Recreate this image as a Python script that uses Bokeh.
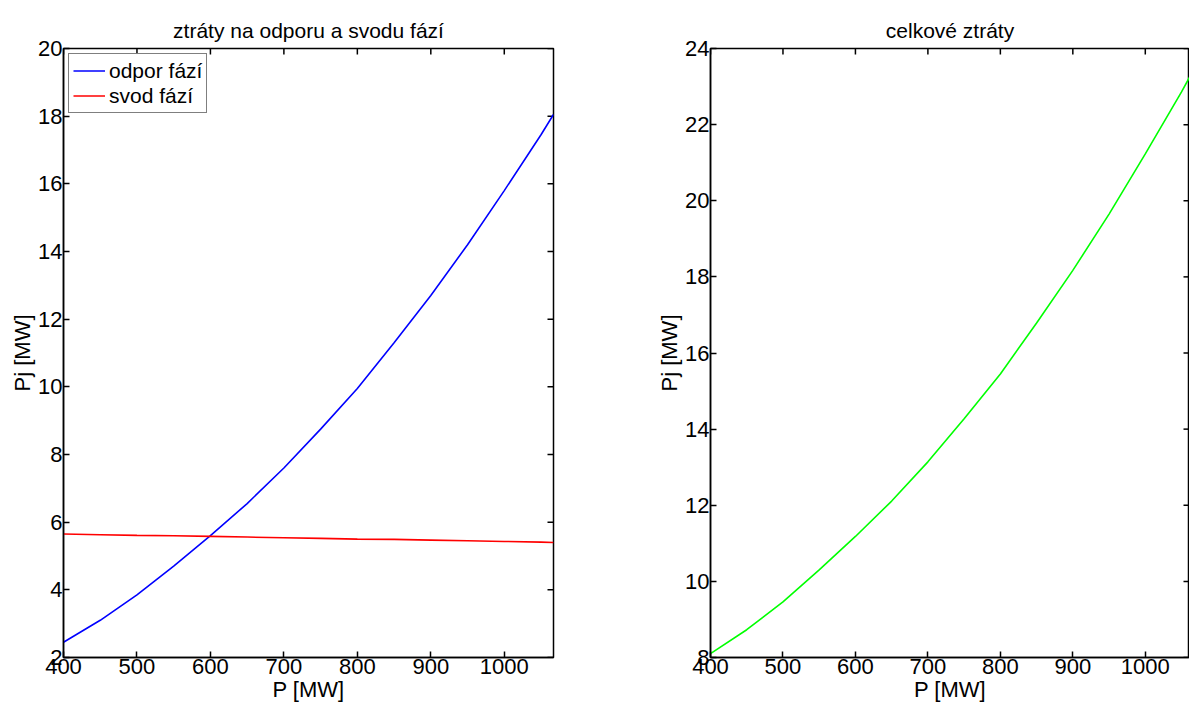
import math
from bokeh.plotting import figure
from bokeh.models import Range1d, FixedTicker, Legend, LegendItem
from bokeh.layouts import row
from bokeh.embed import file_html
from bokeh.resources import INLINE

P = [400, 450, 500, 550, 600, 650, 700, 750, 800, 850, 900, 950, 1000, 1050, 1067]
odpor = [2.45, 3.1, 3.85, 4.7, 5.6, 6.55, 7.6, 8.75, 9.95, 11.3, 12.7, 14.2, 15.8, 17.45, 18.05]
svod = [5.65, 5.63, 5.61, 5.6, 5.58, 5.56, 5.54, 5.52, 5.5, 5.49, 5.47, 5.45, 5.43, 5.41, 5.4]
celkove = [8.1, 8.73, 9.46, 10.3, 11.18, 12.11, 13.14, 14.27, 15.45, 16.79, 18.17, 19.65, 21.23, 22.86, 23.45]

x_ticks = [400, 500, 600, 700, 800, 900, 1000]
y_ticks_left = [2, 4, 6, 8, 10, 12, 14, 16, 18, 20]
y_ticks_right = [8, 10, 12, 14, 16, 18, 20, 22, 24]

FONT = "Liberation Sans"


def style_axis(ax, ticks):
    ax.ticker = FixedTicker(ticks=ticks)
    ax.major_tick_in = 6
    ax.major_tick_out = 0
    ax.minor_tick_in = 0
    ax.minor_tick_out = 0
    ax.axis_line_color = "black"
    ax.axis_line_width = 1.5
    ax.major_tick_line_color = "black"
    ax.major_tick_line_width = 1.5
    ax.major_label_text_font = FONT
    ax.major_label_text_font_size = "22px"
    ax.major_label_text_color = "black"
    ax.major_label_standoff = 1
    ax.axis_label_text_font = FONT
    ax.axis_label_text_font_size = "22px"
    ax.axis_label_text_font_style = "normal"
    ax.axis_label_text_color = "black"
    ax.axis_label_standoff = 0


def make_fig(title, width, xr, yr, yt, left, right):
    p = figure(width=width, height=708, output_backend="svg", toolbar_location=None,
               x_range=Range1d(*xr), y_range=Range1d(*yr),
               min_border_left=left, min_border_right=right,
               min_border_top=48, min_border_bottom=51,
               title=title)
    p.title.text_font = FONT
    p.title.text_font_size = "21px"
    p.title.text_font_style = "normal"
    p.title.align = "center"
    p.title.text_color = "black"
    p.title.standoff = 14
    p.xgrid.visible = False
    p.ygrid.visible = False
    p.outline_line_color = "black"
    p.outline_line_width = 1.5
    style_axis(p.xaxis[0], x_ticks)
    style_axis(p.yaxis[0], yt)
    p.xaxis[0].axis_label = "P [MW]"
    p.yaxis[0].axis_label = "Pj [MW]"
    # inward ticks on the top and right edges of the box (clipped to the frame)
    p.scatter(x_ticks, [yr[1]] * len(x_ticks), marker="dash", size=12, angle=math.pi / 2,
              line_color="black", line_width=1.5)
    p.scatter([xr[1]] * len(yt), yt, marker="dash", size=12,
              line_color="black", line_width=1.5)
    p.background_fill_color = "white"
    p.border_fill_color = "white"
    return p


p1 = make_fig("ztráty na odporu a svodu fází", 600, (400, 1067), (2, 20), y_ticks_left, 63, 47)
r1 = p1.line(P, odpor, line_color="#0000ff", line_width=1.6)
r2 = p1.line(P, svod, line_color="#ff0000", line_width=1.6)
legend = Legend(items=[LegendItem(label="odpor fází", renderers=[r1]),
                       LegendItem(label="svod fází", renderers=[r2])],
                location="top_left")
legend.label_text_font = FONT
legend.label_text_font_size = "21px"
legend.label_text_color = "black"
legend.border_line_color = "black"
legend.border_line_width = 1
legend.margin = 5
legend.padding = 4
legend.spacing = 0
legend.glyph_width = 32
legend.label_standoff = 4
legend.label_height = 25
legend.glyph_height = 25
p1.add_layout(legend)

p2 = make_fig("celkové ztráty", 589, (400, 1061), (8, 24), y_ticks_right, 110, 0)
p2.line(P, celkove, line_color="#00ff00", line_width=1.6)

layout = row(p1, p2)
open("out.html", "w").write(file_html(layout, INLINE))
